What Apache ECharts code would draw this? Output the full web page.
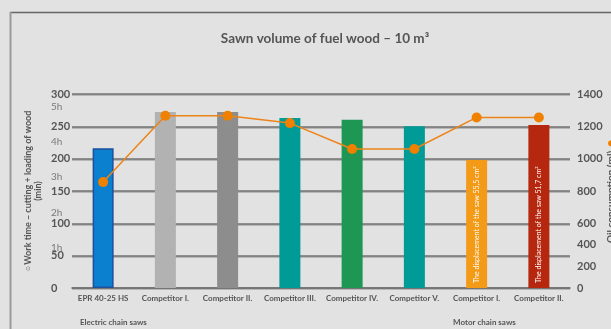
<!DOCTYPE html>
<html>
<head>
<meta charset="utf-8">
<script src="https://cdn.jsdelivr.net/npm/echarts@6/dist/echarts.min.js"></script>
<style>
  html, body { margin: 0; padding: 0; background: #e2e2e2; }
  #chart { width: 611px; height: 329px; }
</style>
</head>
<body>
<div id="chart"></div>
<script>
// Saws compared on one job: sawing 10 m³ of fuel wood
const categories = ['EPR 40-25 HS', 'Competitor I.', 'Competitor II.', 'Competitor III.',
  'Competitor IV.', 'Competitor V.', 'Competitor I.', 'Competitor II.'];
// Work time (cutting + loading of wood), minutes
const workTime = [216, 272, 272, 263, 260, 250, 198, 252];
// Oil consumption, ml
const oilUse = [855, 1265, 1265, 1220, 1060, 1060, 1255, 1255];
const barColors = ['#0a80cf', '#b2b2b2', '#8d8d8d', '#009b96', '#1e9654', '#009b96', '#f39a17', '#b5270e'];
const barNotes = ['', '', '', '', '', '', 'The displacement of the saw 55,5 cm³', 'The displacement of the saw 51,7 cm³'];
const groupLabels = ['Electric chain saws', 'Motor chain saws'];
const title = 'Sawn volume of fuel wood – 10 m³';

const FONT = 'Lato, "Liberation Sans", sans-serif';
const TXT = '#555555';

const chart = echarts.init(document.getElementById('chart'), null, { renderer: 'canvas' });

const gridLine = { lineStyle: { color: '#727272', width: 1.6, shadowColor: '#a8a8a8', shadowOffsetY: 1 } };

chart.setOption({
  backgroundColor: '#e2e2e2',
  animation: false,
  title: {
    text: title, left: 320, top: 27, textAlign: 'center',
    textStyle: { fontFamily: FONT, fontSize: 13.5, fontWeight: 'bold', color: TXT }
  },
  grid: { left: 72, right: 41, top: 94, bottom: 41, outerBoundsMode: 'none', containLabel: false },
  xAxis: {
    type: 'category', data: categories,
    axisLine: { show: true, lineStyle: { color: '#727272', width: 1.6 } },
    axisTick: { show: false },
    axisLabel: { interval: 0, margin: 6, fontFamily: FONT, fontSize: 8, fontWeight: 'bold', color: TXT }
  },
  yAxis: [
    { // minutes
      type: 'value', min: 0, max: 300, interval: 50, position: 'left',
      name: '{c|⊙ }{t|Work time – cutting + loading of wood}\n{t|(min)}',
      nameLocation: 'middle', nameRotate: 90, nameGap: 29, nameMoveOverlap: false,
      nameTextStyle: {
        lineHeight: 10,
        rich: {
          t: { fontFamily: FONT, fontSize: 9, fontWeight: 'bold', color: TXT, lineHeight: 10 },
          c: { fontFamily: FONT, fontSize: 6, color: '#777', lineHeight: 10 }
        }
      },
      axisLine: { show: false }, axisTick: { show: false },
      splitLine: gridLine,
      axisLabel: { align: 'left', margin: 21, fontFamily: FONT, fontSize: 11, fontWeight: 'bold', color: TXT }
    },
    { // oil, ml (data scale)
      type: 'value', min: 200, max: 1400, interval: 200, position: 'right',
      name: '{t|Oil consumption (ml)} {d|●}',
      nameLocation: 'middle', nameRotate: 90, nameGap: 34, nameMoveOverlap: false,
      nameTextStyle: {
        rich: {
          t: { fontFamily: FONT, fontSize: 10, fontWeight: 'bold', color: TXT },
          d: { fontSize: 14, color: '#f08000' }
        }
      },
      axisLine: { show: false }, axisTick: { show: false }, splitLine: { show: false },
      axisLabel: {
        align: 'left', margin: 7, fontFamily: FONT, fontSize: 11, fontWeight: 'bold', color: TXT,
        formatter: v => (v >= 600 ? String(v) : '')
      }
    },
    { // hour marks next to the minute scale
      type: 'value', min: 0, max: 330, interval: 60, position: 'left',
      axisLine: { show: false }, axisTick: { show: false }, splitLine: { show: false },
      axisLabel: {
        align: 'left', verticalAlign: 'bottom', margin: 21,
        fontFamily: FONT, fontSize: 10, color: '#7a7a7a',
        showMaxLabel: false,
        formatter: v => (v > 0 && v <= 300 ? (v / 60) + 'h' : '')
      }
    },
    { // lower part of the oil scale
      type: 'value', min: 0, max: 1800, interval: 200, position: 'right',
      axisLine: { show: false }, axisTick: { show: false }, splitLine: { show: false },
      axisLabel: {
        align: 'left', margin: 7, fontFamily: FONT, fontSize: 11, fontWeight: 'bold', color: TXT,
        formatter: v => (v <= 400 ? String(v) : '')
      }
    }
  ],
  series: [
    {
      type: 'bar', yAxisIndex: 0, barWidth: 21,
      data: workTime.map((v, i) => ({
        value: v,
        itemStyle: i === 0
          ? { color: barColors[i], borderColor: '#1d4f9c', borderWidth: 1.5 }
          : { color: barColors[i] },
        label: barNotes[i] ? {
          show: true, formatter: barNotes[i], position: 'insideBottom', rotate: 90,
          align: 'left', verticalAlign: 'middle', distance: 5,
          fontFamily: FONT, fontSize: 7, color: '#ffffff'
        } : { show: false }
      }))
    },
    {
      type: 'line', yAxisIndex: 1, data: oilUse,
      symbol: 'circle', symbolSize: 10,
      lineStyle: { color: '#ec8419', width: 1.5 },
      itemStyle: { color: '#f08000' }
    }
  ],
  graphic: [
    { type: 'line', shape: { x1: 10, y1: 12.5, x2: 611, y2: 12.5 }, style: { stroke: '#666', lineWidth: 1.5 } },
    { type: 'line', shape: { x1: 10.5, y1: 12, x2: 10.5, y2: 329 }, style: { stroke: '#9a9a9a', lineWidth: 2 } },
    { type: 'text', left: 80, top: 318, style: { text: groupLabels[0], font: 'bold 8px ' + FONT, fill: TXT } },
    { type: 'text', left: 453, top: 318, style: { text: groupLabels[1], font: 'bold 8px ' + FONT, fill: TXT } }
  ]
});
</script>
</body>
</html>
